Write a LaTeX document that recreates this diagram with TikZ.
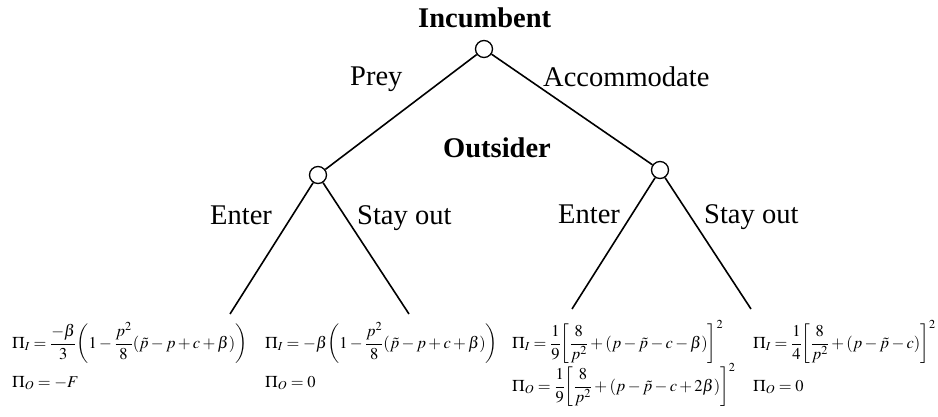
\documentclass[tikz,border=0pt]{standalone}
\usepackage{amsmath}
\usepackage{mathptmx}
\usepackage[no-math]{fontspec}
\setmainfont{Liberation Serif}
\medmuskip=2.5mu plus 1mu minus 1mu
\thickmuskip=4mu plus 2mu
\begin{document}
\begin{tikzpicture}[x=1pt,y=-1pt,
  dec/.style={circle,draw,fill=white,minimum size=17pt,inner sep=0pt,line width=1.3pt},
  edge/.style={line width=1.6pt},
  lab/.style={font=\fontsize{28.5}{30}\selectfont,inner sep=0pt,anchor=base west},
  playr/.style={font=\fontsize{28.5}{30}\selectfont\bfseries,inner sep=0pt,anchor=base west},
  pay/.style={font=\fontsize{16.5}{20}\selectfont,inner sep=0pt,anchor=base west}]
\useasboundingbox (0,0) rectangle (938,417);
\node[dec] (I) at (484,49) {};
\node[dec] (L) at (318,175) {};
\node[dec] (R) at (660,170) {};
\coordinate (LL) at (230,314);
\coordinate (LR) at (409,314);
\coordinate (RL) at (572,309);
\coordinate (RR) at (751,309);
\draw[edge] (I) -- (L);
\draw[edge] (I) -- (R);
\draw[edge] (L) -- (LL);
\draw[edge] (L) -- (LR);
\draw[edge] (R) -- (RL);
\draw[edge] (R) -- (RR);
\node[playr] (tI) at (418,28) {Incumbent};
\node[playr] (tO) at (443,158) {Outsider};
\node[lab] (tP) at (350,86) {Prey};
\node[lab] (tA) at (543,87) {Accommodate};
\node[lab] (tLE) at (210,225) {Enter};
\node[lab] (tLS) at (357,225) {Stay out};
\node[lab] (tRE) at (558,224) {Enter};
\node[lab] (tRS) at (704,224) {Stay out};
\node[pay] (p1i) at (12,348) {$\Pi_I=\dfrac{-\beta}{3}\!\left(1-\dfrac{p^2}{8}(\tilde{p}-p+c+\beta)\right)$};
\node[pay] (p1o) at (12,387) {$\Pi_O=-F$};
\node[pay] (p2i) at (265,348) {$\Pi_I=-\beta\!\left(1-\dfrac{p^2}{8}(\tilde{p}-p+c+\beta)\right)$};
\node[pay] (p2o) at (265,387) {$\Pi_O=0$};
\node[pay] (p3i) at (512,348) {$\Pi_I=\dfrac{1}{9}\!\left[\dfrac{8}{p^2}+(p-\tilde{p}-c-\beta)\right]^2$};
\node[pay] (p3o) at (512,391) {$\Pi_O=\dfrac{1}{9}\!\left[\dfrac{8}{p^2}+(p-\tilde{p}-c+2\beta)\right]^2$};
\node[pay] (p4i) at (753,348) {$\Pi_I=\dfrac{1}{4}\!\left[\dfrac{8}{p^2}+(p-\tilde{p}-c)\right]^2$};
\node[pay] (p4o) at (753,391) {$\Pi_O=0$};
\end{tikzpicture}
\end{document}
